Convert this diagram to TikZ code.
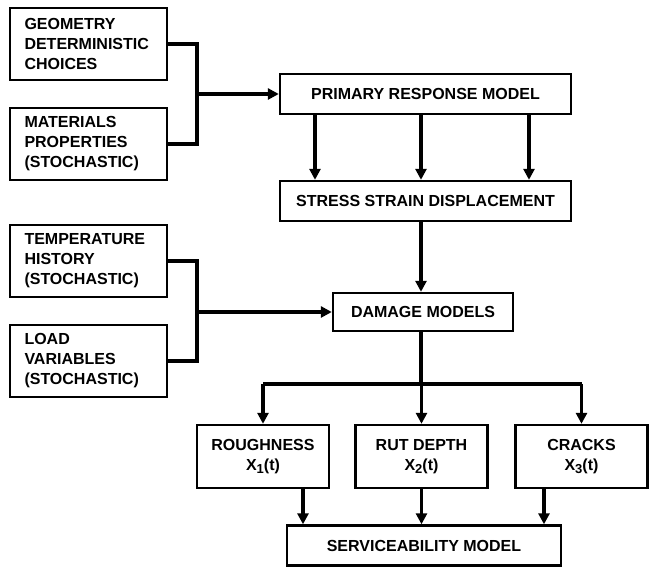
\documentclass[tikz,border=0pt]{standalone}
\usepackage{fontspec}
\setmainfont{Liberation Sans}
\usepackage{tikz}
\usetikzlibrary{positioning,arrows.meta,calc}
\newcommand{\idx}[1]{\raisebox{-0.45ex}{\fontsize{13}{13}\selectfont #1}}

\begin{document}
\begin{tikzpicture}[
      x=1pt, y=-1pt,
      >={Triangle[length=11pt,width=11pt]},
      font=\fontsize{16}{20}\selectfont\bfseries,
      inbox/.style={draw, line width=2.4pt, align=left, text width=128pt,
                    inner xsep=14.5pt, inner ysep=0pt, minimum height=72pt},
      mbox/.style={draw, line width=2.4pt, align=center, inner sep=0pt,
                   minimum height=40pt},
      outbox/.style={mbox, minimum width=132pt, minimum height=63pt},
      arr/.style={->, line width=3.2pt},
      bus/.style={line width=3.2pt}
    ]
    \useasboundingbox (0,0) rectangle (649,569);
    % inputs on the left
    \node[inbox] (geo)  at (88.5,44)  {GEOMETRY\\DETERMINISTIC\\CHOICES};
    \node[inbox] (mat)  at (88.5,144) {MATERIALS\\PROPERTIES\\(STOCHASTIC)};
    \node[inbox] (temp) at (88.5,261) {TEMPERATURE\\HISTORY\\(STOCHASTIC)};
    \node[inbox] (load) at (88.5,361) {LOAD\\VARIABLES\\(STOCHASTIC)};
    % models down the centre
    \node[mbox, minimum width=291pt] (prim) at (425.5,94)  {PRIMARY RESPONSE MODEL};
    \node[mbox, minimum width=291pt] (sss)  at (425.5,201) {STRESS STRAIN DISPLACEMENT};
    \node[mbox, minimum width=180pt, minimum height=38pt] (dmg) at (423,312) {DAMAGE MODELS};
    \node[outbox] (rough) at (263,456.5)   {ROUGHNESS\\X\idx{1}(t)};
    \node[outbox] (rut)   at (421.5,456.5) {RUT DEPTH\\X\idx{2}(t)};
    \node[outbox] (crack) at (581.5,456.5) {CRACKS\\X\idx{3}(t)};
    \node[mbox, minimum width=274pt] (serv) at (424,545.5) {SERVICEABILITY MODEL};
    % joins of the input pairs
    \coordinate (j1) at (197,94);
    \coordinate (j2) at (197,312);
    \draw[bus] (geo.east) -| (j1) |- (mat.east);
    \draw[arr] (j1) -- (prim.west);
    \draw[bus] (temp.east) -| (j2) |- (load.east);
    \draw[arr] (j2) -- (dmg.west);
    % response to stresses
    \foreach \dx in {-110.5,-4.5,103.5}
      \draw[arr] ([xshift=\dx pt]prim.south) -- ([xshift=\dx pt]sss.north);
    \draw[arr] ([xshift=-4.5pt]sss.south) -- ([xshift=-4.5pt]sss.south |- dmg.north);
    % split to the distress measures
    \coordinate (split) at (421,384);
    \draw[bus] (dmg.south -| split) -- (split);
    \draw[bus] (rough.north |- split) -- (crack.north |- split);
    \foreach \n in {rough,rut,crack}
      \draw[arr] (\n.north |- split) -- (\n.north);
    % into serviceability
    \draw[arr] ([xshift=40pt]rough.south) -- ([xshift=40pt]rough.south |- serv.north);
    \draw[arr] (rut.south) -- (rut.south |- serv.north);
    \draw[arr] ([xshift=-37.5pt]crack.south) -- ([xshift=-37.5pt]crack.south |- serv.north);
  \end{tikzpicture}
\end{document}
